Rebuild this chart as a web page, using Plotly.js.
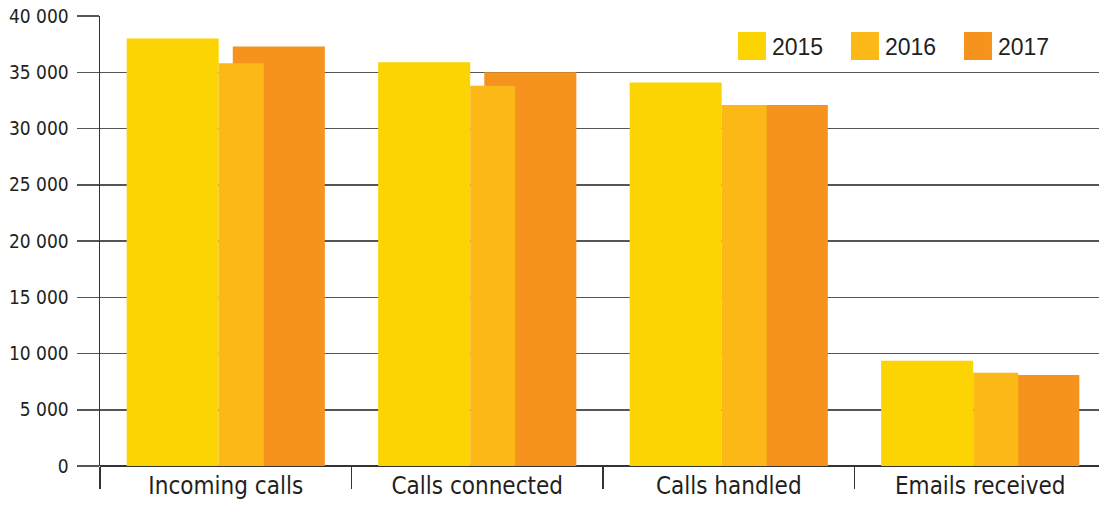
<!DOCTYPE html>
<html>
<head>
<meta charset="utf-8">
<script src="https://cdn.plot.ly/plotly-3.0.1.min.js"></script>
<style>html,body{margin:0;padding:0;background:#fff;}#chart{width:1099px;height:506px;}</style>
</head>
<body>
<div id="chart"></div>
<script>
const categories = ["Incoming calls", "Calls connected", "Calls handled", "Emails received"];
const years = ["2015", "2016", "2017"];
const values2015 = [38000, 35900, 34100, 9350];
const values2016 = [35800, 33800, 32100, 8300];
const values2017 = [37300, 35000, 32100, 8100];
const yTicks = [0, 5000, 10000, 15000, 20000, 25000, 30000, 35000, 40000];

const colors = {"2015": "#FCD303", "2016": "#FBB817", "2017": "#F6921E"};

function bar(name, y, offset, width, rank) {
  return {
    type: "bar", name: name, x: categories, y: y,
    offset: offset, width: width, legendrank: rank,
    marker: {color: colors[name], line: {width: 0}},
    hoverinfo: "x+y+name"
  };
}

const data = [
  bar(years[0], values2015, -0.394, 0.366, 1),
  bar(years[2], values2017, 0.028, 0.366, 3),
  bar(years[1], values2016, -0.028, 0.179, 2)
];

const tickFont = {family: "DejaVu Sans Condensed, Liberation Sans Narrow, sans-serif", color: "#231f20"};

const layout = {
  width: 1099, height: 506,
  margin: {l: 100, r: 0, t: 16, b: 40, pad: 0},
  paper_bgcolor: "#ffffff", plot_bgcolor: "#ffffff",
  barmode: "overlay",
  separators: ". ",
  showlegend: true,
  legend: {
    orientation: "h", x: 0.6326, xanchor: "left", y: 0.933, yanchor: "middle",
    font: {family: "Liberation Sans, Arial, sans-serif", size: 23, color: "#231f20"},
    entrywidth: 68, bgcolor: "rgba(0,0,0,0)", borderwidth: 0
  },
  xaxis: {
    type: "category", range: [-0.5, 3.4722],
    showgrid: false, zeroline: false, showline: false,
    ticks: "outside", tickson: "boundaries", ticklen: 22, tickwidth: 1.5, tickcolor: "#333",
    tickfont: Object.assign({size: 24}, tickFont), ticklabelstandoff: 3
  },
  yaxis: {
    range: [0, 40000], tickvals: yTicks, tickformat: ",d",
    showgrid: true, gridcolor: "#555", gridwidth: 1.5,
    zeroline: true, zerolinecolor: "#333", zerolinewidth: 2,
    showline: true, linecolor: "#333", linewidth: 1.5,
    ticks: "outside", ticklen: 22, tickwidth: 1.5, tickcolor: "#555",
    tickfont: Object.assign({size: 19}, tickFont), ticklabelstandoff: 4
  }
};

Plotly.newPlot("chart", data, layout, {displayModeBar: false, staticPlot: true}).then(function () {
  document.querySelectorAll("#chart .legend .legendpoints path").forEach(function (p) {
    p.setAttribute("d", "M14,14H-14V-14H14Z");
  });
});
</script>
</body>
</html>
